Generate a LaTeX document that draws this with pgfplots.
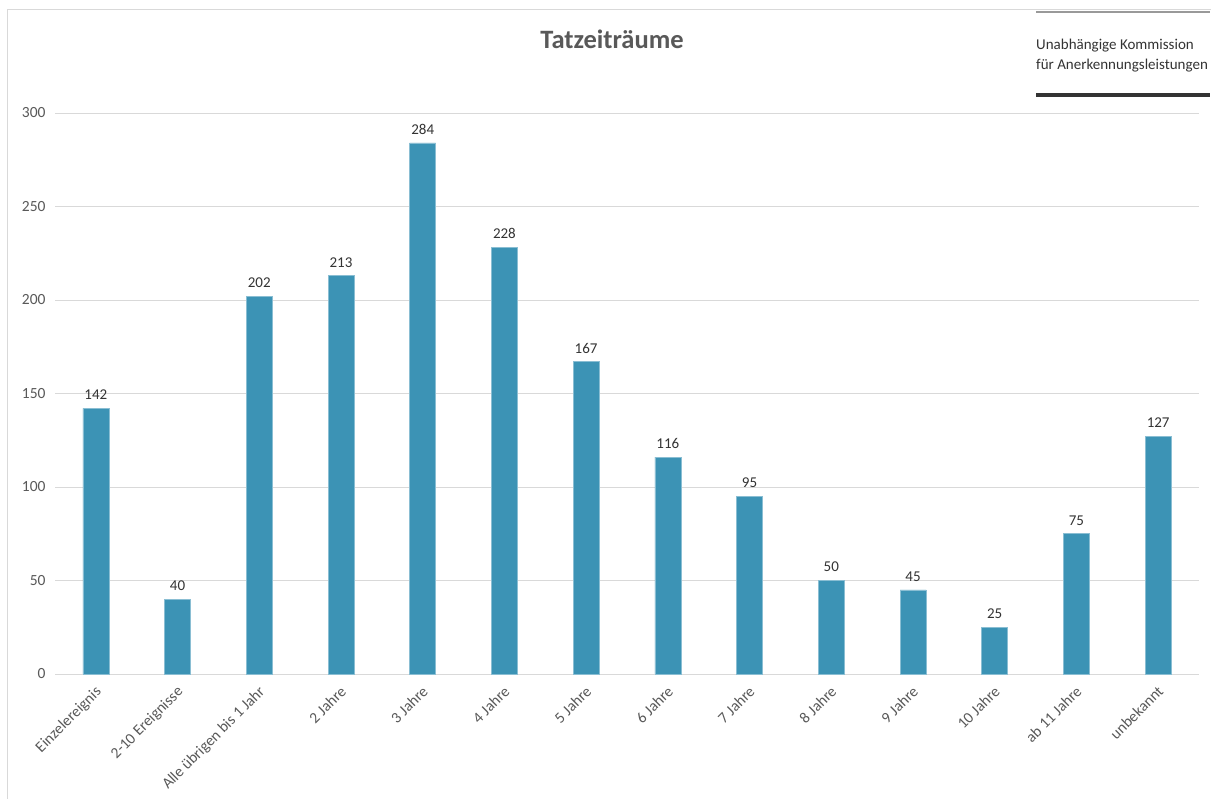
\documentclass[border=0pt]{standalone}
\usepackage{fontspec}
\setmainfont{Carlito}
\usepackage{pgfplots}
\pgfplotsset{compat=1.18}
\definecolor{barblue}{HTML}{3C93B5}
\definecolor{txtgray}{HTML}{595959}
\definecolor{gridgray}{HTML}{D9D9D9}
\definecolor{logodark}{HTML}{333333}
\begin{document}
\begin{tikzpicture}[x=1bp,y=1bp]
\useasboundingbox (0,0) rectangle (1213,799);
\fill[white] (0,0) rectangle (1213,799);
\draw[gridgray, line width=1.2bp] (7.5,0) -- (7.5,789.5) -- (1211,789.5);
% title
\node[font=\fontsize{26.5bp}{30bp}\selectfont\bfseries, text=txtgray] at (612,760) {Tatzeiträume};
% logo
\draw[gray!80, line width=1.3bp] (1036,787) -- (1210,787);
\draw[logodark, line width=4bp] (1036,704) -- (1210,704);
\node[anchor=base west, inner sep=0pt, font=\fontsize{15bp}{18bp}\selectfont, text=logodark] at (1036,749) {Unabhängige Kommission};
\node[anchor=base west, inner sep=0pt, font=\fontsize{15bp}{18bp}\selectfont, text=logodark] at (1036,729) {für Anerkennungsleistungen};
\begin{axis}[
  at={(55bp,125bp)}, anchor=south west,
  scale only axis, width=1144bp, height=561bp,
  xmin=-0.5, xmax=13.5, ymin=0, ymax=300,
  axis line style={draw=none},
  tick style={draw=none},
  ytick={0,50,100,150,200,250,300},
  ymajorgrids, grid style={gridgray, line width=0.8bp},
  /pgf/number format/assume math mode=true,
  yticklabel style={font=\fontsize{15.5bp}{18bp}\selectfont, text=txtgray, xshift=-6bp},
  xtick=data,
  xticklabels={Einzelereignis,2-10 Ereignisse,Alle übrigen bis 1 Jahr,2 Jahre,3 Jahre,4 Jahre,5 Jahre,6 Jahre,7 Jahre,8 Jahre,9 Jahre,10 Jahre,ab 11 Jahre,unbekannt},
  xticklabel style={font=\fontsize{15.5bp}{18bp}\selectfont, text=txtgray, xshift=-1.5bp, yshift=-6bp, rotate=45, anchor=north east},
  nodes near coords,
  nodes near coords style={font=\fontsize{15bp}{18bp}\selectfont, text=logodark, yshift=5bp},
  clip=false,
]
\addplot[ybar, bar width=26bp, fill=barblue, draw=barblue!60!white, line width=0.5bp] coordinates {
(0,142) (1,40) (2,202) (3,213) (4,284) (5,228) (6,167) (7,116) (8,95) (9,50) (10,45) (11,25) (12,75) (13,127)
};
\end{axis}
\end{tikzpicture}
\end{document}
